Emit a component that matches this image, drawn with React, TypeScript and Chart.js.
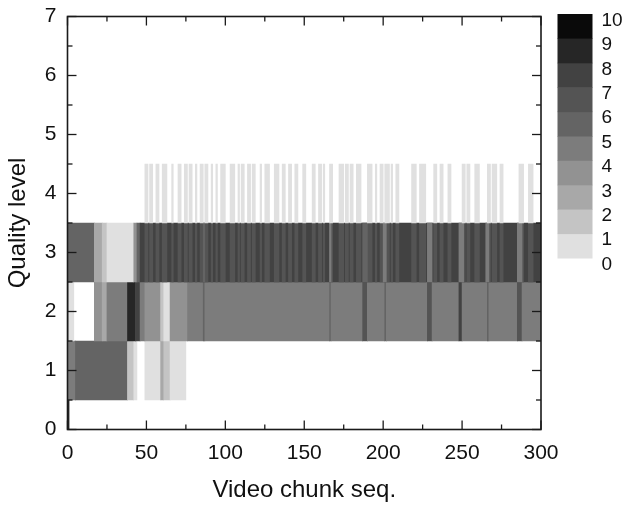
import React, { useEffect, useRef } from 'react';
import { Chart, registerables } from 'chart.js';

Chart.register(...registerables);

const FONT = "'Liberation Sans', Arial, Helvetica, sans-serif";

// Axis ticks
const X_TICKS = [0, 50, 100, 150, 200, 250, 300];
const Y_TICKS = [0, 1, 2, 3, 4, 5, 6, 7];
// Colour-bar levels (labels) and the grey fill used for values 1..10
const COLOR_LEVELS = [0, 1, 2, 3, 4, 5, 6, 7, 8, 9, 10];
const GRAY = [224, 196, 168, 146, 124, 100, 84, 66, 38, 10];

// Runs per quality level: [first chunk, end chunk (exclusive), count]
const LEVEL0_RUNS = [[0, 1, 9]];
const LEVEL1_RUNS = [
  [0, 5, 5], [5, 38, 6], [38, 42, 2], [42, 44, 1], [49, 59, 1], [59, 61, 3], [61, 65, 2], [65, 75, 1],
];
const LEVEL2_RUNS = [
  [0, 1, 4], [1, 4, 1], [17, 22, 4], [22, 25, 3], [25, 38, 5], [38, 43, 9], [43, 46, 8], [46, 49, 5],
  [49, 59, 4], [59, 61, 2], [61, 65, 1], [65, 76, 4], [76, 86, 5], [86, 87, 6], [87, 166, 5],
  [166, 167, 6], [167, 187, 5], [187, 190, 7], [190, 201, 5], [201, 202, 6], [202, 228, 5],
  [228, 231, 7], [231, 248, 5], [248, 250, 8], [250, 266, 5], [266, 267, 6], [267, 285, 5],
  [285, 288, 7], [288, 300, 5],
];
const LEVEL3_RUNS = [
  [0, 17, 6], [17, 22, 3], [22, 25, 2], [25, 42, 1], [42, 44, 4], [44, 46, 6], [46, 300, 8],
];
// lighter stripes of level 3 (they sit under the level-4 bars)
const LEVEL3_LIGHT = [
  [49, 51, 7], [52, 54, 7], [56, 58, 7], [60, 63, 7], [66, 67, 7], [70, 72, 7], [74, 76, 7], [77, 79, 7],
  [81, 82, 7], [84, 86, 7], [87, 89, 7], [91, 92, 7], [94, 95, 7], [97, 100, 7], [103, 106, 7],
  [108, 109, 7], [110, 112, 7], [114, 116, 7], [117, 119, 7], [122, 123, 7], [125, 128, 7],
  [131, 134, 7], [136, 138, 7], [140, 142, 7], [144, 146, 7], [149, 151, 7], [155, 157, 7],
  [159, 161, 7], [162, 163, 7], [166, 168, 7], [172, 175, 7], [176, 178, 7], [179, 181, 7],
  [183, 186, 7], [190, 193, 7], [195, 196, 7], [198, 200, 7], [201, 204, 7], [205, 206, 7],
  [208, 210, 7], [218, 221, 7], [223, 227, 7], [232, 234, 7], [236, 238, 7], [241, 243, 7],
  [250, 252, 7], [253, 255, 7], [258, 261, 7], [266, 268, 7], [269, 272, 7], [274, 276, 7],
  [286, 289, 7], [292, 295, 7],
];
const LEVEL3_DIPS = [
  [86, 87, 6], [166, 167, 5], [187, 190, 6], [200, 202, 5], [228, 231, 5], [248, 251, 5],
  [265, 267, 5], [285, 288, 5],
];
const LEVEL4_RUNS = [
  [49, 51, 1], [52, 54, 1], [56, 58, 1], [60, 63, 1], [66, 67, 1], [70, 72, 1], [74, 76, 1], [77, 79, 1],
  [81, 82, 1], [84, 86, 1], [87, 89, 1], [91, 92, 1], [94, 95, 1], [97, 100, 1], [103, 106, 1],
  [108, 109, 1], [110, 112, 1], [114, 116, 1], [117, 119, 1], [122, 123, 1], [125, 128, 1],
  [131, 134, 1], [136, 138, 1], [140, 142, 1], [144, 146, 1], [149, 151, 1], [155, 157, 1],
  [159, 161, 1], [162, 163, 1], [166, 168, 1], [172, 175, 1], [176, 178, 1], [179, 181, 1],
  [183, 186, 1], [190, 193, 1], [195, 196, 1], [198, 200, 1], [201, 204, 1], [205, 206, 1],
  [208, 210, 1], [218, 221, 1], [223, 227, 1], [232, 234, 1], [236, 238, 1], [241, 243, 1],
  [250, 252, 1], [253, 255, 1], [258, 261, 1], [266, 268, 1], [269, 272, 1], [274, 276, 1],
  [286, 289, 1], [292, 295, 1],
];

const shade = (v: number) => {
  const g = GRAY[Math.max(0, Math.min(GRAY.length - 1, v - 1))];
  return `rgb(${g},${g},${g})`;
};

function buildData() {
  const points: any[] = [];
  const colors: string[] = [];
  const add = (level: number, runs: number[][]) => {
    runs.forEach(([a, b, v]) => {
      points.push({ x: [a, b], y: level });
      colors.push(shade(v));
    });
  };
  add(0, LEVEL0_RUNS);
  add(1, LEVEL1_RUNS);
  add(2, LEVEL2_RUNS);
  add(3, LEVEL3_RUNS);
  add(3, LEVEL3_LIGHT);
  add(3, LEVEL3_DIPS);
  add(4, LEVEL4_RUNS);
  return { points, colors };
}

const framePlugin = {
  id: 'frameAndColorbar',
  afterDatasetsDraw(chart: any) {
    const { ctx, chartArea: a, scales } = chart;
    const x = scales.x;
    const y = scales.y;
    ctx.save();
    ctx.strokeStyle = '#1a1a1a';
    ctx.lineWidth = 1.3;
    const line = (x1: number, y1: number, x2: number, y2: number) => {
      ctx.beginPath();
      ctx.moveTo(x1, y1);
      ctx.lineTo(x2, y2);
      ctx.stroke();
    };
    // inward ticks, major + minor (midpoints)
    const xt: number[] = [];
    X_TICKS.forEach((v, i) => {
      xt.push(v);
      if (i < X_TICKS.length - 1) xt.push((v + X_TICKS[i + 1]) / 2);
    });
    xt.forEach((v) => {
      const len = X_TICKS.includes(v) ? 9 : 5;
      const px = x.getPixelForValue(v);
      line(px, a.bottom, px, a.bottom - len);
      line(px, a.top, px, a.top + len);
    });
    const yt: number[] = [];
    Y_TICKS.forEach((v, i) => {
      yt.push(v);
      if (i < Y_TICKS.length - 1) yt.push((v + Y_TICKS[i + 1]) / 2);
    });
    yt.forEach((v) => {
      const len = Y_TICKS.includes(v) ? 9 : 5;
      const py = y.getPixelForValue(v);
      line(a.left, py, a.left + len, py);
      line(a.right, py, a.right - len, py);
    });
    ctx.lineWidth = 1.6;
    ctx.strokeRect(a.left, a.top, a.right - a.left, a.bottom - a.top);

    // colour bar
    const cbLeft = a.right + 16.5;
    const cbWidth = 35;
    const cbTop = a.top - 2.5;
    const segH = 24.4;
    const nSeg = COLOR_LEVELS.length - 1;
    for (let i = 0; i < nSeg; i++) {
      const top = cbTop + (nSeg - 1 - i) * segH;
      ctx.fillStyle = shade(i + 1);
      ctx.fillRect(cbLeft, top, cbWidth, segH + 0.5);
    }
    ctx.fillStyle = '#111';
    ctx.font = `19px ${FONT}`;
    ctx.textAlign = 'left';
    ctx.textBaseline = 'middle';
    COLOR_LEVELS.forEach((lv, i) => {
      const yy = cbTop + (nSeg - i) * segH + 6.5;
      ctx.fillText(String(lv), cbLeft + cbWidth + 9, yy);
    });
    ctx.restore();
  },
};

export default function App() {
  const ref = useRef<HTMLCanvasElement>(null);
  useEffect(() => {
    const { points, colors } = buildData();
    const chart = new Chart(ref.current as HTMLCanvasElement, {
      type: 'bar',
      data: {
        datasets: [
          {
            data: points,
            backgroundColor: colors,
            borderWidth: 0,
            barPercentage: 1,
            categoryPercentage: 1,
          } as any,
        ],
      },
      options: {
        indexAxis: 'y',
        animation: false,
        responsive: false,
        events: [],
        layout: { padding: { left: 0, top: 16.5, right: 81, bottom: 0 } },
        plugins: { legend: { display: false }, tooltip: { enabled: false } },
        scales: {
          x: {
            type: 'linear',
            position: 'bottom',
            min: X_TICKS[0],
            max: X_TICKS[X_TICKS.length - 1],
            offset: false,
            afterBuildTicks: (s: any) => {
              s.ticks = X_TICKS.map((v) => ({ value: v }));
            },
            grid: { display: false, drawTicks: false },
            border: { display: false },
            ticks: { padding: 11, color: '#111', maxRotation: 0, font: { size: 21, family: FONT } },
            title: {
              display: true,
              text: 'Video chunk seq.',
              color: '#111',
              font: { size: 24, family: FONT },
              padding: { top: 0, bottom: 4 },
            },
            afterFit: (s: any) => {
              s.height = 79.5;
              s.paddingLeft = 0;
              s.paddingRight = 0;
            },
          },
          y: {
            type: 'linear',
            min: Y_TICKS[0],
            max: Y_TICKS[Y_TICKS.length - 1],
            offset: false,
            afterBuildTicks: (s: any) => {
              s.ticks = Y_TICKS.map((v) => ({ value: v }));
            },
            grid: { display: false, drawTicks: false, offset: false },
            border: { display: false },
            ticks: { padding: 11, color: '#111', font: { size: 21, family: FONT } },
            title: {
              display: true,
              text: 'Quality level',
              color: '#111',
              font: { size: 24, family: FONT },
              padding: { top: 4, bottom: 0 },
            },
            afterFit: (s: any) => {
              s.width = 67.5;
              s.paddingTop = 0;
              s.paddingBottom = 0;
            },
          },
        },
      } as any,
      plugins: [framePlugin],
    });
    return () => chart.destroy();
  }, []);
  return (
    <div style={{ position: 'absolute', left: 0, top: 0, width: 622, height: 509, background: '#fff' }}>
      <canvas ref={ref} width={622} height={509} style={{ display: 'block' }} />
    </div>
  );
}
